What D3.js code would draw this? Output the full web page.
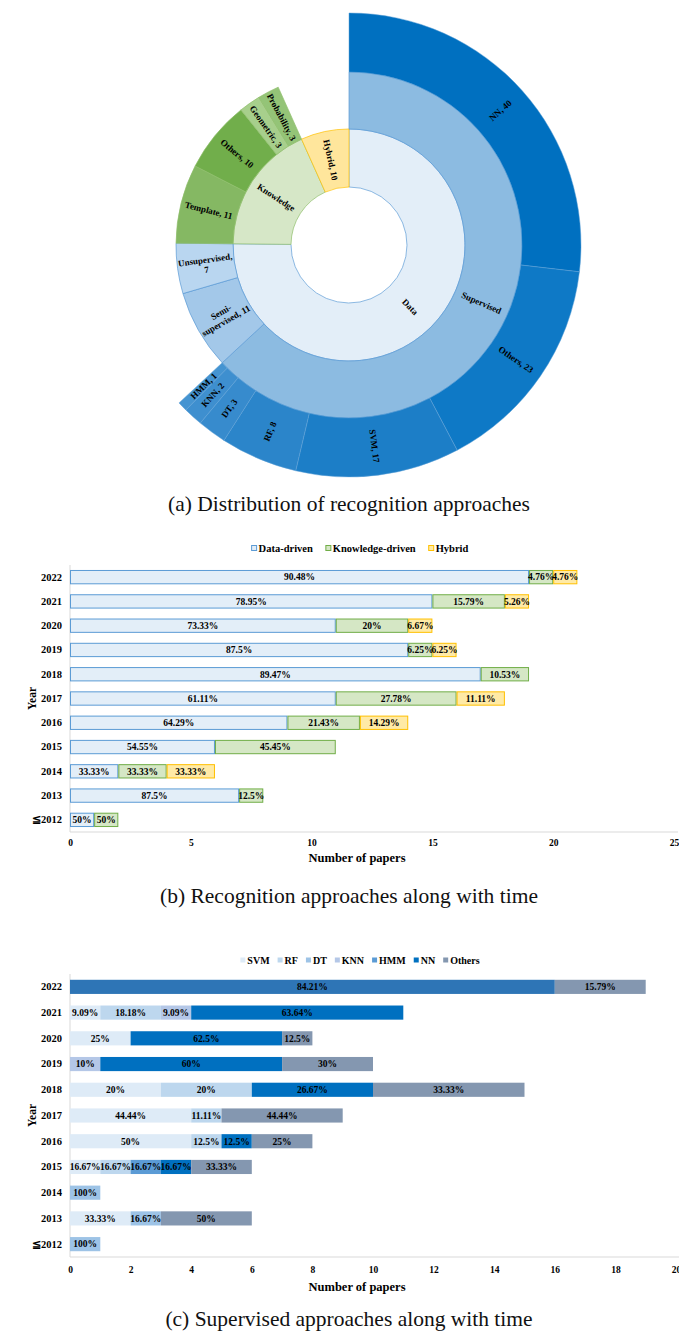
<!DOCTYPE html>
<html>
<head>
<meta charset="utf-8">
<script src="https://cdn.jsdelivr.net/npm/d3@7"></script>
<style>
  html, body { margin: 0; padding: 0; background: #fff; }
  svg { display: block; font-family: "Liberation Serif", "Times New Roman", serif; }
</style>
</head>
<body>
<svg id="fig" width="679" height="1332"></svg>
<script>
// ---------- (a) sunburst data ----------
const supervisedMethods = ["NN", "Others", "SVM", "RF", "DT", "KNN", "HMM"];
const supervisedCounts  = [40, 23, 17, 8, 3, 2, 1];
const semiSupervisedCount = 11;
const unsupervisedCount = 7;
const knowledgeMethods = ["Template", "Others", "Geometric", "Probability"];
const knowledgeCounts  = [11, 10, 3, 3];
const hybridCount = 10;

// ---------- (b) approach per year ----------
const years = ["2022", "2021", "2020", "2019", "2018", "2017", "2016", "2015", "2014", "2013", "≦2012"];
const approachNames = ["Data-driven", "Knowledge-driven", "Hybrid"];
const dataDriven      = [19, 15, 11, 14, 17, 11, 9, 6, 2, 7, 1];
const knowledgeDriven = [1, 3, 3, 1, 2, 5, 3, 5, 2, 1, 1];
const hybrid          = [1, 1, 1, 1, 0, 2, 2, 0, 2, 0, 0];
const approachTicks = [0, 5, 10, 15, 20, 25];

// ---------- (c) supervised methods per year ----------
const methodNames = ["SVM", "RF", "DT", "KNN", "HMM", "NN", "Others"];
const svm    = [0, 1, 2, 0, 3, 4, 4, 1, 0, 2, 0];
const rf     = [0, 2, 0, 0, 3, 1, 1, 1, 0, 0, 0];
const dt     = [0, 0, 0, 0, 0, 0, 0, 0, 1, 1, 1];
const knn    = [0, 1, 0, 1, 0, 0, 0, 0, 0, 0, 0];
const hmm    = [0, 0, 0, 0, 0, 0, 0, 1, 0, 0, 0];
const nn     = [16, 7, 5, 6, 4, 0, 1, 1, 0, 0, 0];
const others = [3, 0, 1, 3, 5, 4, 2, 2, 0, 3, 0];
const methodTicks = [0, 2, 4, 6, 8, 10, 12, 14, 16, 18, 20];

const svg = d3.select("#fig");
const SERIF = "Liberation Serif, Times New Roman, serif";
const pct = v => (+(v * 100).toFixed(2)) + "%";

// ================= (a) Sunburst =================
(function drawSunburst() {
  const cx = 349, cy = 245;
  const radii = [0, 58, 116, 173, 232];

  const tree = {
    name: "root",
    children: [
      { name: "Data", children: [
          { name: "Supervised", children: supervisedMethods.map((m, i) => ({ name: m, value: supervisedCounts[i] })) },
          { name: "Semi-supervised", value: semiSupervisedCount },
          { name: "Unsupervised", value: unsupervisedCount }
      ]},
      { name: "Knowledge", children: knowledgeMethods.map((m, i) => ({ name: m, value: knowledgeCounts[i] })) },
      { name: "Hybrid", value: hybridCount }
    ]
  };

  const root = d3.hierarchy(tree).sum(d => d.value || 0);
  d3.partition().size([2 * Math.PI, 4])(root);

  const fills = {
    "Data": "#e3eef8", "Knowledge": "#d6e7c7", "Hybrid": "#ffe69c",
    "Supervised": "#8cbbe1", "Semi-supervised": "#a3c8e9", "Unsupervised": "#b9d6f0",
    "Supervised/NN": "#0070c0", "Supervised/Others": "#0e79c6", "Supervised/SVM": "#1c7ec7",
    "Supervised/RF": "#2b85ca", "Supervised/DT": "#378bcd", "Supervised/KNN": "#3e8fcf", "Supervised/HMM": "#4594d1",
    "Knowledge/Template": "#85b863", "Knowledge/Others": "#71ae4b",
    "Knowledge/Geometric": "#a7cf8c", "Knowledge/Probability": "#94c477"
  };
  const key = d => d.depth >= 2 && d.parent.data.name !== "Data" ? d.parent.data.name + "/" + d.data.name : d.data.name;
  const top = d => d.ancestors().find(a => a.depth === 1).data.name;
  const strokes = { "Data": "#5b9bd5", "Knowledge": "#8fbf6c", "Hybrid": "#ffc000" };

  const arc = d3.arc()
    .startAngle(d => d.x0).endAngle(d => d.x1)
    .innerRadius(d => radii[d.depth]).outerRadius(d => radii[d.depth + 1]);

  const g = svg.append("g").attr("transform", `translate(${cx},${cy})`);
  const nodes = root.descendants().filter(d => d.depth > 0);

  g.selectAll("path").data(nodes).join("path")
    .attr("d", arc)
    .attr("fill", d => fills[key(d)])
    .attr("stroke", d => d.depth === 3 ? "#5fa0d6" : strokes[top(d)])
    .attr("stroke-width", d => d.depth === 3 ? 0.5 : 0.7);

  const labelLines = d => {
    if (d.children) return [d.data.name];
    if (d.data.name === "Semi-supervised") return ["Semi-", "supervised, " + d.value];
    if (d.data.name === "Unsupervised") return ["Unsupervised,", String(d.value)];
    return [d.data.name + ", " + d.value];
  };

  const lab = g.selectAll("text.sb").data(nodes).join("text")
    .attr("class", "sb")
    .attr("font-family", SERIF)
    .attr("font-size", 9)
    .attr("font-weight", "bold")
    .attr("fill", "#000")
    .attr("text-anchor", "middle")
    .attr("transform", d => {
      const a = (d.x0 + d.x1) / 2;
      const r = (radii[d.depth] + radii[d.depth + 1]) / 2;
      const deg = a * 180 / Math.PI;
      const rot = deg > 180 ? deg - 270 : deg - 90;
      return `translate(${r * Math.sin(a)},${-r * Math.cos(a)}) rotate(${rot})`;
    });

  lab.each(function (d) {
    const lines = labelLines(d);
    const t = d3.select(this);
    const lh = 10;
    lines.forEach((ln, i) => {
      t.append("tspan").attr("x", 0)
        .attr("y", (i - (lines.length - 1) / 2) * lh)
        .attr("dy", "0.35em")
        .text(ln);
    });
  });
})();

// ================= stacked horizontal bar helper =================
function drawStacked(opts) {
  const { names, series, domainMax, ticks, xRange, yRange, padding, colors, strokes,
          legendY, legendFont, legendGap, legendBox, axisTitleY, tickY, rowFill } = opts;

  const rows = years.map((y, i) => {
    const row = { year: y };
    names.forEach((n, k) => row[n] = series[k][i]);
    row.total = d3.sum(series, s => s[i]);
    return row;
  });

  const x = d3.scaleLinear().domain([0, domainMax]).range(xRange);
  const y = d3.scaleBand().domain(years).range(yRange).paddingInner(padding).paddingOuter(padding / 2);
  const stacked = d3.stack().keys(names)(rows);

  const g = svg.append("g");

  // axis lines
  g.append("line").attr("x1", x(0)).attr("x2", x(0))
    .attr("y1", yRange[0]).attr("y2", yRange[1])
    .attr("stroke", "#d9d9d9").attr("stroke-width", 1);
  g.append("line").attr("x1", x(0)).attr("x2", xRange[1] + 4)
    .attr("y1", yRange[1]).attr("y2", yRange[1])
    .attr("stroke", "#d9d9d9").attr("stroke-width", 1);

  // bars
  stacked.forEach((layer, k) => {
    const name = names[k];
    layer.forEach((seg, i) => {
      const v = seg[1] - seg[0];
      if (v <= 0) return;
      const yr = years[i];
      const fill = (rowFill && rowFill[yr] && rowFill[yr][name]) || colors[k];
      const x0 = x(seg[0]), x1 = x(seg[1]);
      const inset = strokes ? 0.5 : 0;
      g.append("rect")
        .attr("x", x0 + inset).attr("y", y(yr) + inset)
        .attr("width", x1 - x0 - 2 * inset).attr("height", y.bandwidth() - 2 * inset)
        .attr("fill", fill)
        .attr("stroke", strokes ? strokes[k] : "none")
        .attr("stroke-width", strokes ? 1 : 0);
      g.append("text")
        .attr("x", (x0 + x1) / 2).attr("y", y(yr) + y.bandwidth() / 2)
        .attr("dy", "0.35em").attr("text-anchor", "middle")
        .attr("font-family", SERIF)
        .attr("font-size", 9.5).attr("font-weight", "bold").attr("fill", "#000")
        .text(pct(v / rows[i].total));
    });
  });

  // y labels
  const yAxis = d3.axisLeft(y).tickSize(0).tickPadding(0);
  const ya = g.append("g").attr("transform", `translate(${x(0) - 8},0)`).call(yAxis);
  ya.select(".domain").remove();
  ya.selectAll("text").attr("font-family", SERIF)
    .attr("font-size", 10.5).attr("font-weight", "bold").attr("fill", "#000");

  // x labels
  const xAxis = d3.axisBottom(x).tickValues(ticks).tickSize(0).tickPadding(0).tickFormat(d3.format("d"));
  const xa = g.append("g").attr("transform", `translate(0,${tickY})`).call(xAxis);
  xa.select(".domain").remove();
  xa.selectAll("text").attr("font-family", SERIF)
    .attr("font-size", 9.5).attr("font-weight", "bold").attr("fill", "#000").attr("dy", "0.35em");

  // axis titles
  g.append("text").attr("x", 357).attr("y", axisTitleY).attr("dy", "0.35em")
    .attr("font-family", SERIF)
    .attr("text-anchor", "middle").attr("font-size", 12.5).attr("font-weight", "bold").text("Number of papers");
  const ym = (yRange[0] + yRange[1]) / 2;
  g.append("text").attr("transform", `translate(32,${ym}) rotate(-90)`).attr("dy", "0.35em")
    .attr("font-family", SERIF)
    .attr("text-anchor", "middle").attr("font-size", 11.5).attr("font-weight", "bold").text("Year");

  // legend
  const lg = g.append("g");
  let cur = 0;
  names.forEach((n, k) => {
    const it = lg.append("g");
    const sz = legendBox;
    it.append("rect").attr("x", 0).attr("y", -sz / 2).attr("width", sz).attr("height", sz)
      .attr("fill", colors[k]).attr("stroke", strokes ? strokes[k] : "none").attr("stroke-width", strokes ? 1 : 0);
    const t = it.append("text").attr("x", sz + 2).attr("dy", "0.35em")
      .attr("font-family", SERIF)
      .attr("font-size", legendFont).attr("font-weight", "bold").text(n);
    const w = sz + 2 + t.node().getComputedTextLength();
    it.attr("transform", `translate(${cur},0)`);
    cur += w + legendGap;
  });
  const totalW = cur - legendGap;
  lg.attr("transform", `translate(${360 - totalW / 2},${legendY})`);
}

// ================= (b) =================
drawStacked({
  names: approachNames,
  series: [dataDriven, knowledgeDriven, hybrid],
  domainMax: 25, ticks: approachTicks,
  xRange: [70, 674], yRange: [565, 832], padding: 0.41,
  colors: ["#e3eef8", "#d5e7c5", "#ffeaa6"],
  strokes: ["#5b9bd5", "#70ad47", "#ffc000"],
  legendY: 548, legendFont: 10.5, legendGap: 13, legendBox: 5,
  axisTitleY: 858, tickY: 843
});

// ================= (c) =================
drawStacked({
  names: methodNames,
  series: [svm, rf, dt, knn, hmm, nn, others],
  domainMax: 20, ticks: methodTicks,
  xRange: [70, 676], yRange: [974, 1257], padding: 0.45,
  colors: ["#deebf7", "#bdd7ee", "#9dc3e6", "#b4c7e7", "#5b9bd5", "#0070c0", "#8497b0"],
  strokes: null,
  rowFill: { "2022": { "NN": "#2e75b6" } },
  legendY: 960, legendFont: 10, legendGap: 8, legendBox: 5,
  axisTitleY: 1287, tickY: 1270
});

// ================= captions =================
const captions = [
  { text: "(a) Distribution of recognition approaches", y: 503 },
  { text: "(b) Recognition approaches along with time", y: 895 },
  { text: "(c) Supervised approaches along with time", y: 1318 }
];
svg.selectAll("text.cap").data(captions).join("text")
  .attr("class", "cap")
  .attr("x", 349).attr("y", d => d.y).attr("dy", "0.35em")
  .attr("font-family", SERIF)
  .attr("text-anchor", "middle").attr("font-size", 21.5).attr("fill", "#111")
  .text(d => d.text);
</script>
</body>
</html>
